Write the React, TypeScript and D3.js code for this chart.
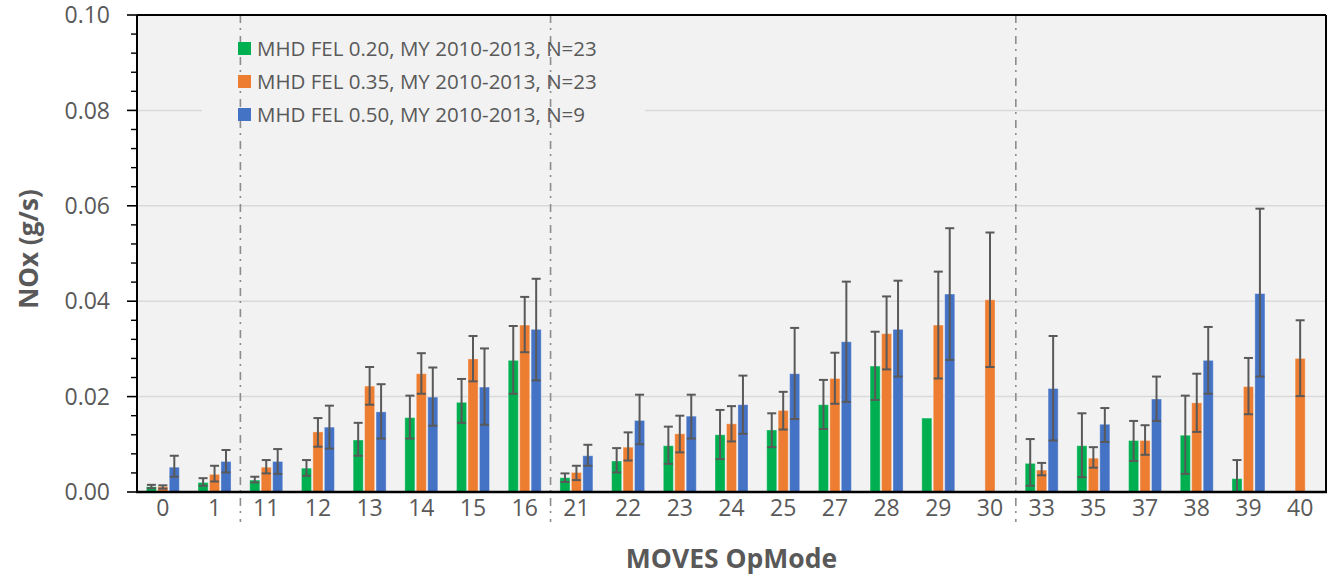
import React from "react";
import * as d3 from "d3";

const categories = ["0","1","11","12","13","14","15","16","21","22","23","24","25","27","28","29","30","33","35","37","38","39","40"];

const seriesNames = [
  "MHD FEL 0.20, MY 2010-2013, N=23",
  "MHD FEL 0.35, MY 2010-2013, N=23",
  "MHD FEL 0.50, MY 2010-2013, N=9",
];
const seriesColors = ["#00b050", "#ed7d31", "#4472c4"];

const fel020Mean = [0.0011,0.0020,0.0025,0.0050,0.0109,0.0156,0.0188,0.0276,0.0030,0.0065,0.0097,0.0120,0.0130,0.0183,0.0264,0.0155,null,0.0060,0.0097,0.0108,0.0119,0.0028,null];
const fel020Low = [0.0008,0.0013,0.0020,0.0034,0.0076,0.0112,0.0145,0.0206,0.0021,0.0041,0.0059,0.0069,0.0094,0.0132,0.0193,null,null,0.0013,0.0031,0.0065,0.0038,0.0,null];
const fel020High = [0.0015,0.0029,0.0032,0.0067,0.0145,0.0202,0.0237,0.0348,0.0039,0.0092,0.0137,0.0172,0.0165,0.0235,0.0336,null,null,0.0111,0.0165,0.0149,0.0202,0.0067,null];

const fel035Mean = [0.0011,0.0037,0.0052,0.0126,0.0222,0.0248,0.0279,0.0350,0.0041,0.0094,0.0122,0.0143,0.0171,0.0238,0.0332,0.0350,0.0403,0.0046,0.0071,0.0108,0.0187,0.0221,0.0280];
const fel035Low = [0.0007,0.0022,0.0039,0.0095,0.0183,0.0206,0.0232,0.0293,0.0025,0.0066,0.0083,0.0106,0.0131,0.0185,0.0257,0.0238,0.0262,0.0035,0.0051,0.0078,0.0126,0.0163,0.0201];
const fel035High = [0.0014,0.0055,0.0067,0.0155,0.0262,0.0291,0.0327,0.0409,0.0055,0.0125,0.0160,0.0180,0.0210,0.0292,0.0410,0.0462,0.0544,0.0061,0.0094,0.0140,0.0248,0.0281,0.0360];

const fel050Mean = [0.0052,0.0064,0.0064,0.0136,0.0168,0.0199,0.0220,0.0341,0.0076,0.0150,0.0159,0.0183,0.0248,0.0315,0.0341,0.0415,null,0.0217,0.0142,0.0195,0.0276,0.0416,null];
const fel050Low = [0.0032,0.0041,0.0038,0.0091,0.0112,0.0139,0.0141,0.0234,0.0055,0.0100,0.0112,0.0122,0.0153,0.0189,0.0242,0.0277,null,0.0108,0.0105,0.0149,0.0206,0.0242,null];
const fel050High = [0.0076,0.0088,0.0090,0.0181,0.0226,0.0261,0.0301,0.0447,0.0099,0.0204,0.0204,0.0244,0.0344,0.0441,0.0443,0.0553,null,0.0327,0.0176,0.0242,0.0346,0.0594,null];

const yTicks = [0, 0.02, 0.04, 0.06, 0.08, 0.1];
// separators after these category labels (group boundaries)
const separatorsAfter = ["1", "16", "30"];

const means = [fel020Mean, fel035Mean, fel050Mean];
const lows = [fel020Low, fel035Low, fel050Low];
const highs = [fel020High, fel035High, fel050High];

const W = 1335, H = 578;
const M = { left: 137, right: 1326, top: 15, bottom: 492 };
const FONT = "'Open Sans', 'Noto Sans', sans-serif";
const TXT = "#595959";

export default function App() {
  const x = d3.scaleBand<string>().domain(categories).range([M.left, M.right]).paddingInner(0).paddingOuter(0);
  const inner = d3.scaleBand<number>().domain([0, 1, 2]).range([0, 33]).paddingInner(0.12);
  const y = d3.scaleLinear().domain([0, 0.1]).range([M.bottom, M.top]);
  const offset = (x.bandwidth() - 33) / 2;
  const minor = d3.range(0, 0.1001, 0.004).filter((v) => Math.abs(v / 0.02 - Math.round(v / 0.02)) > 1e-6);
  const capW = 9;

  return (
    <svg width={W} height={H} style={{ position: "fixed", left: 0, top: 0, background: "#fff" }} fontFamily={FONT}>
      <rect x={M.left} y={M.top} width={M.right - M.left} height={M.bottom - M.top} fill="#f2f2f2" />
      {yTicks.slice(1, -1).map((t) => (
        <line key={"g" + t} x1={M.left} x2={M.right} y1={y(t)} y2={y(t)} stroke="#d9d9d9" strokeWidth={1.5} />
      ))}
      {/* legend background */}
      <rect x={202} y={30} width={443} height={103} fill="#f2f2f2" />
      {/* bars */}
      {means.map((arr, s) =>
        arr.map((v, i) =>
          v == null ? null : (
            <rect
              key={`b${s}-${i}`}
              x={(x(categories[i]) as number) + offset + (inner(s) as number)}
              y={y(v)}
              width={inner.bandwidth()}
              height={y(0) - y(v)}
              fill={seriesColors[s]}
              stroke="#ffffff"
              strokeOpacity={0.35}
              strokeWidth={1}
            />
          )
        )
      )}
      {/* error bars */}
      {means.map((arr, s) =>
        arr.map((v, i) => {
          const lo = lows[s][i];
          const hi = highs[s][i];
          if (v == null || lo == null || hi == null) return null;
          const cx = (x(categories[i]) as number) + offset + (inner(s) as number) + inner.bandwidth() / 2;
          return (
            <g key={`e${s}-${i}`} stroke="#595959" strokeWidth={2}>
              <line x1={cx} x2={cx} y1={y(lo)} y2={y(hi)} />
              <line x1={cx - capW / 2} x2={cx + capW / 2} y1={y(hi)} y2={y(hi)} />
              <line x1={cx - capW / 2} x2={cx + capW / 2} y1={y(lo)} y2={y(lo)} />
            </g>
          );
        })
      )}
      {/* separators */}
      {separatorsAfter.map((c) => {
        const sx = (x(c) as number) + x.bandwidth();
        return (
          <line key={"s" + c} x1={sx} x2={sx} y1={M.top} y2={522} stroke="#8c8c8c" strokeWidth={1.6} strokeDasharray="8,5,2,6" />
        );
      })}
      {/* frame */}
      <line x1={M.left} x2={M.right} y1={M.top} y2={M.top} stroke="#000" strokeWidth={2} />
      <line x1={M.right} x2={M.right} y1={M.top} y2={M.bottom} stroke="#000" strokeWidth={2} />
      <line x1={M.left} x2={M.left} y1={M.top} y2={M.bottom} stroke="#000" strokeWidth={2} />
      <line x1={M.left - 1} x2={M.right + 1} y1={M.bottom} y2={M.bottom} stroke="#000" strokeWidth={2.5} />
      {/* y ticks */}
      {yTicks.map((t) => (
        <g key={"yt" + t}>
          <line x1={M.left - 10} x2={M.left} y1={y(t)} y2={y(t)} stroke="#000" strokeWidth={1.6} />
          <text x={110} y={y(t)} dy="0.36em" textAnchor="end" fontSize={23} fill={TXT}>
            {d3.format(".2f")(t)}
          </text>
        </g>
      ))}
      {minor.map((t) => (
        <line key={"m" + t} x1={M.left - 6} x2={M.left} y1={y(t)} y2={y(t)} stroke="#000" strokeWidth={1.4} />
      ))}
      {/* x labels */}
      {categories.map((c) => (
        <text key={"xl" + c} x={(x(c) as number) + x.bandwidth() / 2} y={516} textAnchor="middle" fontSize={23} fill={TXT}>
          {c}
        </text>
      ))}
      <text x={(M.left + M.right) / 2} y={568} textAnchor="middle" fontSize={26.5} fontWeight="bold" fill={TXT}>
        MOVES OpMode
      </text>
      <text transform={`translate(38,249) rotate(-90)`} textAnchor="middle" fontSize={26} fontWeight="bold" fill={TXT}>
        NOx (g/s)
      </text>
      {/* legend */}
      {seriesNames.map((n, s) => (
        <g key={"lg" + s} transform={`translate(238,${49 + s * 33})`}>
          <rect x={0} y={-7} width={13} height={13} fill={seriesColors[s]} />
          <text x={19} y={0} dy="0.35em" fontSize={20.5} fill={TXT}>
            {n}
          </text>
        </g>
      ))}
    </svg>
  );
}
